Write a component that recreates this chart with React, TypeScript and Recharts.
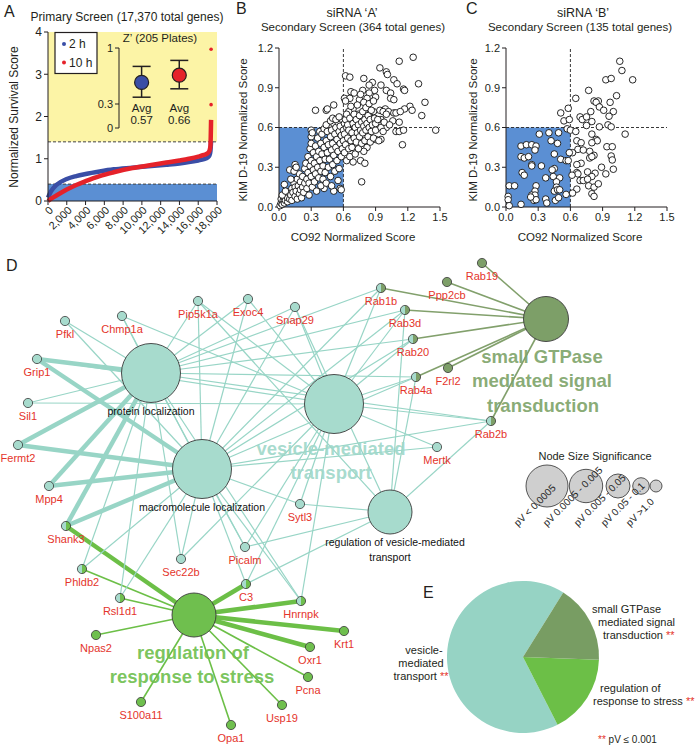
import React from 'react';
import {
  ComposedChart, Line, Scatter, ScatterChart, XAxis, YAxis, ReferenceArea, ReferenceLine,
  ErrorBar, PieChart, Pie, Cell,
} from 'recharts';

const FONT = '"Liberation Sans", Arial, Helvetica, sans-serif';
const INK = '#231f20';
const BLUE_FILL = '#5b8fd3';
const YELLOW_FILL = '#fcf4a6';
const RED_TXT = '#e4342b';

// ---------------- Panel A ----------------
const rankX = [0, 300, 900, 2000, 3000, 4000, 5500, 7000, 9000, 11000, 12600, 14000, 15000, 16000, 16600, 17000, 17200, 17300, 17370];
const score2h = [0.08, 0.22, 0.38, 0.52, 0.59, 0.64, 0.70, 0.75, 0.79, 0.83, 0.86, 0.89, 0.92, 0.96, 0.99, 1.03, 1.08, 1.18, 1.42];
const score10h = [0.0, 0.05, 0.13, 0.27, 0.38, 0.47, 0.59, 0.68, 0.78, 0.85, 0.91, 0.96, 1.0, 1.05, 1.09, 1.13, 1.19, 1.30, 1.92];
const outlierRank = [17370, 17370];
const outlier10h = [2.28, 3.59];
const xTicksA = [0, 2000, 4000, 6000, 8000, 10000, 12000, 14000, 16000, 18000];
const yTicksA = [0, 1, 2, 3, 4];
const seriesA = [
  { name: '2 h', color: '#3a4ea6', values: score2h },
  { name: '10 h', color: '#e5222a', values: score10h },
];

// Z' inset
const zGroups = ['2 h', '10 h'];
const zMean = [0.57, 0.66];
const zLow = [0.385, 0.49];
const zHigh = [0.77, 0.845];
const zTicks = [0, 0.3, 1];

// ---------------- Panels B & C ----------------
const xTicksBC = [0, 0.3, 0.6, 0.9, 1.2, 1.5];
const yTicksBC = [0, 0.3, 0.6, 0.9, 1.2];

const siA: number[][] = [
  [1.25, 1.13], [1.12, 1.10], [0.94, 1.05], [1.0, 1.02], [1.01, 1.0], [1.07, 0.96], [1.10, 0.93], [1.30, 0.93], [0.62, 0.99], [0.66, 0.98],
  [0.79, 0.97], [0.87, 0.94], [0.84, 0.92], [0.95, 0.92], [1.16, 0.89], [1.17, 0.88], [1.0, 0.88], [1.04, 0.86], [0.78, 0.88], [0.89, 0.88],
  [0.84, 0.86], [0.67, 0.87], [0.70, 0.86], [0.61, 0.82], [0.66, 0.82], [1.04, 0.82], [1.07, 0.81], [0.75, 0.81], [0.82, 0.82], [0.90, 0.83],
  [1.36, 0.79], [0.34, 0.73], [0.44, 0.73], [0.45, 0.74], [0.51, 0.77], [1.22, 0.76], [1.17, 0.74], [1.24, 0.73], [1.33, 0.69], [0.94, 0.73],
  [0.99, 0.74], [0.97, 0.72], [1.02, 0.72], [1.07, 0.71], [1.09, 0.71], [1.13, 0.72], [0.88, 0.72], [0.80, 0.73], [0.69, 0.74], [0.65, 0.72],
  [0.74, 0.70], [0.78, 0.68], [0.85, 0.67], [0.95, 0.66], [1.06, 0.65], [1.12, 0.64], [0.89, 0.64], [1.46, 0.58], [1.09, 0.57], [1.12, 0.57],
  [1.16, 0.58], [1.0, 0.60], [1.15, 0.47], [0.95, 0.51], [0.90, 0.51], [0.86, 0.51], [0.80, 0.54], [0.82, 0.45], [0.79, 0.42], [0.72, 0.43],
  [0.76, 0.35], [0.80, 0.33], [0.69, 0.34], [0.63, 0.38], [0.77, 0.19], [0.57, 0.14], [0.51, 0.12], [0.42, 0.14], [0.30, 0.58], [0.30, 0.53],
  [0.10, 0.28], [0.15, 0.32],
  [0.01, 0.01], [0.02, 0.03], [0.02, 0.06], [0.03, 0.02], [0.04, 0.05], [0.05, 0.03], [0.05, 0.07], [0.06, 0.05], [0.07, 0.09], [0.08, 0.04],
  [0.08, 0.07], [0.09, 0.11], [0.10, 0.06], [0.03, 0.09], [0.06, 0.12], [0.05, 0.17],
  [0.11, 0.09], [0.12, 0.14], [0.12, 0.05], [0.13, 0.11], [0.14, 0.18], [0.15, 0.08], [0.15, 0.15], [0.16, 0.12], [0.17, 0.21], [0.17, 0.06],
  [0.18, 0.16], [0.19, 0.10], [0.19, 0.25], [0.20, 0.13], [0.20, 0.19], [0.11, 0.21], [0.14, 0.27], [0.16, 0.30],
  [0.21, 0.07], [0.22, 0.15], [0.22, 0.23], [0.23, 0.11], [0.24, 0.18], [0.24, 0.29], [0.25, 0.33], [0.26, 0.14], [0.26, 0.21], [0.27, 0.26],
  [0.27, 0.38], [0.28, 0.09], [0.28, 0.18], [0.29, 0.31], [0.29, 0.44], [0.30, 0.23], [0.30, 0.35], [0.30, 0.48], [0.31, 0.56], [0.31, 0.15],
  [0.32, 0.28], [0.32, 0.41],
  [0.33, 0.19], [0.33, 0.33], [0.34, 0.25], [0.34, 0.46], [0.35, 0.12], [0.35, 0.38], [0.36, 0.30], [0.36, 0.52], [0.37, 0.22], [0.37, 0.42],
  [0.38, 0.35], [0.38, 0.57], [0.39, 0.16], [0.39, 0.27], [0.39, 0.48], [0.40, 0.40], [0.40, 0.55], [0.41, 0.31], [0.41, 0.21], [0.42, 0.45],
  [0.42, 0.59],
  [0.43, 0.36], [0.43, 0.26], [0.44, 0.50], [0.44, 0.18], [0.45, 0.41], [0.45, 0.57], [0.46, 0.30], [0.46, 0.47], [0.47, 0.36], [0.47, 0.62],
  [0.48, 0.23], [0.48, 0.53], [0.49, 0.43], [0.49, 0.58], [0.50, 0.32], [0.50, 0.48], [0.51, 0.39], [0.51, 0.63], [0.52, 0.55], [0.52, 0.27],
  [0.53, 0.45], [0.53, 0.60],
  [0.54, 0.35], [0.54, 0.51], [0.55, 0.64], [0.55, 0.42], [0.56, 0.57], [0.56, 0.29], [0.57, 0.48], [0.57, 0.61], [0.58, 0.38], [0.58, 0.54],
  [0.59, 0.44], [0.59, 0.66], [0.60, 0.50], [0.60, 0.58], [0.55, 0.20], [0.58, 0.13], [0.49, 0.16],
  [0.44, 0.62], [0.48, 0.65], [0.50, 0.67], [0.53, 0.66], [0.56, 0.68], [0.61, 0.63], [0.62, 0.66], [0.63, 0.60],
  [0.61, 0.41], [0.61, 0.55], [0.62, 0.47], [0.63, 0.70], [0.63, 0.35], [0.64, 0.52], [0.64, 0.62], [0.65, 0.44], [0.65, 0.58], [0.66, 0.67],
  [0.66, 0.38], [0.67, 0.50], [0.67, 0.76], [0.68, 0.56], [0.68, 0.45], [0.69, 0.63], [0.70, 0.52], [0.70, 0.70], [0.62, 0.80],
  [0.71, 0.40], [0.71, 0.60], [0.72, 0.66], [0.72, 0.49], [0.73, 0.56], [0.73, 0.77], [0.74, 0.62], [0.74, 0.44], [0.75, 0.69], [0.75, 0.53],
  [0.76, 0.58], [0.76, 0.85], [0.77, 0.64], [0.77, 0.48], [0.78, 0.72], [0.78, 0.56], [0.79, 0.61], [0.79, 0.79], [0.80, 0.66], [0.80, 0.50],
  [0.81, 0.58], [0.81, 0.75], [0.82, 0.63], [0.83, 0.69], [0.83, 0.53], [0.84, 0.78], [0.84, 0.60], [0.85, 0.66], [0.85, 0.49], [0.86, 0.73],
  [0.86, 0.57], [0.87, 0.62], [0.88, 0.80], [0.88, 0.52], [0.89, 0.67], [0.90, 0.58], [0.90, 0.63],
  [0.92, 0.66], [0.93, 0.50], [0.95, 0.60], [0.97, 0.57], [0.98, 0.64], [1.0, 0.70], [1.03, 0.62],
];

const siB: number[][] = [
  [1.06, 1.10], [1.08, 1.03], [1.18, 0.96], [0.93, 0.96], [0.98, 0.97], [0.77, 0.88], [1.03, 0.84], [0.65, 0.82], [0.82, 0.80], [0.86, 0.80],
  [0.84, 0.79], [0.97, 0.79], [0.87, 0.755], [0.91, 0.73], [1.0, 0.72], [0.79, 0.72], [0.51, 0.71], [0.58, 0.745], [0.69, 0.68], [0.71, 0.66],
  [0.75, 0.68], [0.96, 0.685], [0.54, 0.65], [0.59, 0.66], [0.80, 0.645], [0.75, 0.615], [0.87, 0.605], [0.95, 0.62], [0.98, 0.605], [0.57, 0.59],
  [0.60, 0.58], [0.65, 0.57], [1.11, 0.55], [0.80, 0.55], [0.66, 0.50], [0.70, 0.485], [0.84, 0.51], [0.85, 0.50], [0.80, 0.485], [0.94, 0.455],
  [0.99, 0.455], [0.67, 0.435], [0.72, 0.43], [0.78, 0.42], [0.62, 0.41], [0.82, 0.39], [0.78, 0.37], [0.80, 0.38], [0.98, 0.385], [0.99, 0.355],
  [0.70, 0.33], [0.66, 0.32], [0.89, 0.30], [1.0, 0.285], [0.93, 0.25], [0.66, 0.26], [0.67, 0.25], [0.76, 0.265], [0.83, 0.255], [0.80, 0.23],
  [0.69, 0.20], [0.72, 0.20], [0.76, 0.21], [0.615, 0.24], [0.77, 0.16], [0.82, 0.15], [0.86, 0.175], [0.80, 0.10], [0.82, 0.08], [0.66, 0.135],
  [0.62, 0.105],
  [0.31, 0.55], [0.40, 0.56], [0.49, 0.56], [0.42, 0.50], [0.48, 0.48], [0.14, 0.46], [0.19, 0.47], [0.24, 0.47], [0.28, 0.46], [0.27, 0.43],
  [0.45, 0.40], [0.14, 0.38], [0.17, 0.37], [0.21, 0.38], [0.24, 0.32], [0.24, 0.31], [0.33, 0.31], [0.51, 0.36], [0.56, 0.35], [0.58, 0.35],
  [0.59, 0.41], [0.45, 0.29], [0.43, 0.28], [0.15, 0.26], [0.17, 0.24], [0.37, 0.22], [0.44, 0.23], [0.50, 0.22], [0.47, 0.19], [0.47, 0.15],
  [0.03, 0.16], [0.08, 0.16], [0.28, 0.16], [0.27, 0.12], [0.45, 0.12], [0.48, 0.13], [0.50, 0.13], [0.56, 0.095], [0.02, 0.08], [0.02, 0.055],
  [0.03, 0.01], [0.14, 0.02], [0.24, 0.09], [0.27, 0.09], [0.26, 0.05], [0.28, 0.055], [0.37, 0.06], [0.38, 0.03], [0.46, 0.05], [0.49, 0.07],
  [0.23, 0.075],
];

// ---------------- Panel D (network layout) ----------------
const hubs = [
  { id: 'P', name: 'protein localization', x: 151, y: 373, r: 29.5, kind: 't' },
  { id: 'M', name: 'macromolecule localization', x: 202, y: 469, r: 29.5, kind: 't' },
  { id: 'V', name: 'vesicle-mediated transport', x: 334, y: 404, r: 29.5, kind: 't' },
  { id: 'R', name: 'regulation of vesicle-mediated transport', x: 390, y: 512, r: 22, kind: 't' },
  { id: 'G', name: 'small GTPase mediated signal transduction', x: 546, y: 319, r: 22.5, kind: 'g' },
  { id: 'S', name: 'regulation of response to stress', x: 194, y: 615, r: 22, kind: 's' },
];

const hubLabels = [
  { text: 'protein localization', x: 151, y: 411, big: '' },
  { text: 'macromolecule localization', x: 202, y: 507, big: '' },
  { text: 'regulation of vesicle-mediated', x: 395, y: 542, big: '' },
  { text: 'transport', x: 390, y: 557, big: '' },
  { text: 'vesicle-mediated', x: 331, y: 448, big: 't' },
  { text: 'transport', x: 331, y: 472, big: 't' },
  { text: 'small GTPase', x: 542, y: 356, big: 'g' },
  { text: 'mediated signal', x: 542, y: 380, big: 'g' },
  { text: 'transduction', x: 543, y: 405, big: 'g' },
  { text: 'regulation of', x: 193, y: 652, big: 's' },
  { text: 'response to stress', x: 192, y: 676, big: 's' },
];

const genes = [
  { id: 'Pfkl', x: 65, y: 321, kind: 't' },
  { id: 'Chmp1a', x: 122, y: 316, kind: 't' },
  { id: 'Pip5k1a', x: 198, y: 301, kind: 't' },
  { id: 'Exoc4', x: 248, y: 299, kind: 't' },
  { id: 'Snap29', x: 295, y: 307, kind: 't' },
  { id: 'Grip1', x: 37, y: 359, kind: 't' },
  { id: 'Sil1', x: 28, y: 403, kind: 't' },
  { id: 'Fermt2', x: 18, y: 445, kind: 't' },
  { id: 'Mpp4', x: 49, y: 486, kind: 't' },
  { id: 'Sytl3', x: 300, y: 504, kind: 't' },
  { id: 'Shank3', x: 66, y: 526, kind: 'ts' },
  { id: 'Phldb2', x: 82, y: 569, kind: 'ts' },
  { id: 'Sec22b', x: 181, y: 559, kind: 't' },
  { id: 'Picalm', x: 245, y: 547, kind: 't' },
  { id: 'C3', x: 246, y: 584, kind: 'ts' },
  { id: 'Rsl1d1', x: 120, y: 598, kind: 'ts' },
  { id: 'Hnrnpk', x: 301, y: 601, kind: 'ts' },
  { id: 'Npas2', x: 96, y: 635, kind: 's' },
  { id: 'Krt1', x: 344, y: 631, kind: 's' },
  { id: 'Oxr1', x: 310, y: 647, kind: 's' },
  { id: 'Pcna', x: 308, y: 677, kind: 's' },
  { id: 'S100a11', x: 141, y: 702, kind: 's' },
  { id: 'Usp19', x: 282, y: 705, kind: 's' },
  { id: 'Opa1', x: 231, y: 725, kind: 's' },
  { id: 'Rab19', x: 482, y: 263, kind: 'g' },
  { id: 'Ppp2cb', x: 447, y: 282, kind: 'g' },
  { id: 'Rab1b', x: 381, y: 288, kind: 'tg' },
  { id: 'Rab3d', x: 405, y: 310, kind: 'tg' },
  { id: 'Rab20', x: 413, y: 339, kind: 'tg' },
  { id: 'Rab4a', x: 416, y: 377, kind: 'tg' },
  { id: 'F2rl2', x: 448, y: 368, kind: 'g' },
  { id: 'Rab2b', x: 491, y: 421, kind: 'tg' },
  { id: 'Mertk', x: 437, y: 447, kind: 't' },
];

// gene -> hub, weight (1 = thin, 2 = thick)
const links: [string, string, number][] = [
  ['Pfkl', 'P', 1], ['Pfkl', 'M', 1],
  ['Chmp1a', 'P', 1], ['Chmp1a', 'M', 1], ['Chmp1a', 'V', 1],
  ['Pip5k1a', 'P', 1], ['Pip5k1a', 'M', 1], ['Pip5k1a', 'V', 1], ['Pip5k1a', 'R', 1],
  ['Exoc4', 'P', 1], ['Exoc4', 'M', 1], ['Exoc4', 'V', 1],
  ['Snap29', 'P', 1], ['Snap29', 'M', 1], ['Snap29', 'V', 1], ['Snap29', 'R', 1],
  ['Grip1', 'P', 2], ['Grip1', 'M', 2], ['Grip1', 'V', 1],
  ['Sil1', 'P', 1], ['Sil1', 'V', 1],
  ['Fermt2', 'P', 2], ['Fermt2', 'M', 2],
  ['Mpp4', 'P', 2], ['Mpp4', 'M', 2],
  ['Sytl3', 'M', 1], ['Sytl3', 'V', 1], ['Sytl3', 'R', 1],
  ['Sec22b', 'P', 1], ['Sec22b', 'M', 1], ['Sec22b', 'V', 1],
  ['Picalm', 'P', 1], ['Picalm', 'M', 1], ['Picalm', 'V', 1], ['Picalm', 'R', 1],
  ['Mertk', 'M', 1], ['Mertk', 'V', 1],
  ['Shank3', 'P', 2], ['Shank3', 'M', 2], ['Shank3', 'S', 2],
  ['Phldb2', 'P', 1], ['Phldb2', 'M', 1], ['Phldb2', 'S', 1],
  ['Rsl1d1', 'P', 1], ['Rsl1d1', 'M', 1], ['Rsl1d1', 'S', 1],
  ['C3', 'M', 1], ['C3', 'V', 1], ['C3', 'R', 1], ['C3', 'S', 2],
  ['Hnrnpk', 'P', 1], ['Hnrnpk', 'M', 1], ['Hnrnpk', 'V', 1], ['Hnrnpk', 'S', 2],
  ['Rab1b', 'P', 1], ['Rab1b', 'M', 1], ['Rab1b', 'V', 1], ['Rab1b', 'G', 1],
  ['Rab3d', 'P', 1], ['Rab3d', 'M', 1], ['Rab3d', 'V', 1], ['Rab3d', 'R', 1], ['Rab3d', 'G', 1],
  ['Rab20', 'P', 1], ['Rab20', 'M', 1], ['Rab20', 'V', 1], ['Rab20', 'G', 1],
  ['Rab4a', 'P', 1], ['Rab4a', 'M', 1], ['Rab4a', 'V', 1], ['Rab4a', 'R', 1], ['Rab4a', 'G', 1],
  ['Rab2b', 'P', 1], ['Rab2b', 'M', 1], ['Rab2b', 'V', 1], ['Rab2b', 'R', 1], ['Rab2b', 'G', 1],
  ['Rab19', 'G', 1], ['Ppp2cb', 'G', 1], ['F2rl2', 'G', 1],
  ['Npas2', 'S', 1], ['Krt1', 'S', 2], ['Oxr1', 'S', 2], ['Pcna', 'S', 1],
  ['S100a11', 'S', 1], ['Usp19', 'S', 1], ['Opa1', 'S', 1],
];

const sizeLegendLabels = ['pV < 0.0005', 'pV 0.0005 - 0.005', 'pV 0.005 - 0.05', 'pV 0.05 - 0.1', 'pV >1.0'];
const sizeLegend = [
  { x: 547, y: 486, r: 21, ldx: -29 },
  { x: 586, y: 486, r: 16.7, ldx: -39 },
  { x: 618, y: 486, r: 12, ldx: -40 },
  { x: 641, y: 486, r: 8.3, ldx: -36 },
  { x: 656, y: 486, r: 6, ldx: -26 },
];

// ---------------- Panel E ----------------
const pieCategories = ['vesicle-mediated transport', 'regulation of response to stress', 'small GTPase mediated signal transduction'];
const pieShares = [66.4, 16.9, 16.7];
const pieColors = ['#96d3c4', '#6cbf47', '#789d63'];

// colours for network
const NODE_FILL: Record<string, string> = { t: '#a7dbcd', g: '#7d9f68', s: '#6fbf4e' };
const EDGE_COL: Record<string, string> = { P: '#98d5c6', M: '#98d5c6', V: '#98d5c6', R: '#98d5c6', G: '#82a06c', S: '#6cbf47' };
const BIG_COL: Record<string, string> = { t: '#9fd8ca', g: '#7ea46a', s: '#6fc04f' };

// ---------------- helpers ----------------
const fmtThousands = (v: number) => v.toLocaleString('en-US');

const RotTick = (props: any) => {
  const { x, y, payload } = props;
  const tx = x + 3;
  const ty = y + 1;
  return (
    <text x={tx} y={ty} transform={`rotate(-45 ${tx} ${ty})`} textAnchor="end" dominantBaseline="central" fontSize={11} fill={INK}>
      {fmtThousands(payload.value)}
    </text>
  );
};

const OpenDot = (p: any) => <circle cx={p.cx} cy={p.cy} r={3.3} fill="#fff" stroke="#111" strokeWidth={0.9} />;
const Nothing = () => <g />;

const GeneShape = (p: any) => {
  const { cx, cy, payload } = p;
  const r = 4.6;
  const kind: string = payload.kind;
  let body;
  if (kind.length === 2) {
    const right = NODE_FILL[kind[1]];
    body = (
      <g>
        <path d={`M ${cx} ${cy - r} A ${r} ${r} 0 0 0 ${cx} ${cy + r} Z`} fill={NODE_FILL.t} />
        <path d={`M ${cx} ${cy - r} A ${r} ${r} 0 0 1 ${cx} ${cy + r} Z`} fill={right} />
        <circle cx={cx} cy={cy} r={r} fill="none" stroke="#3a3a3a" strokeWidth={0.8} />
      </g>
    );
  } else {
    body = <circle cx={cx} cy={cy} r={r} fill={NODE_FILL[kind]} stroke="#3a3a3a" strokeWidth={0.8} />;
  }
  return (
    <g>
      {body}
      <text x={cx} y={cy + 13} textAnchor="middle" dominantBaseline="central" fontSize={11} fill={RED_TXT}>{payload.id}</text>
    </g>
  );
};

const HubShape = (p: any) => {
  const { cx, cy, payload } = p;
  return <circle cx={cx} cy={cy} r={payload.r} fill={NODE_FILL[payload.kind]} stroke="#3a3a3a" strokeWidth={0.9} />;
};

const HubLabelShape = (p: any) => {
  const { cx, cy, payload } = p;
  if (payload.big) {
    return (
      <text x={cx} y={cy} textAnchor="middle" dominantBaseline="central" fontSize={18.5} fontWeight="bold" fill={BIG_COL[payload.big]} fillOpacity={0.92}>
        {payload.text}
      </text>
    );
  }
  return (
    <text x={cx} y={cy} textAnchor="middle" dominantBaseline="central" fontSize={10.5} fill="#111">{payload.text}</text>
  );
};

const SizeLegendShape = (p: any) => {
  const { cx, cy, payload } = p;
  const lx = cx + payload.ldx;
  const ly = cy + 41;
  return (
    <g>
      <circle cx={cx} cy={cy} r={payload.r} fill="#cfcfcf" stroke="#444" strokeWidth={0.9} />
      <text x={lx} y={ly} transform={`rotate(-45 ${lx} ${ly})`} fontSize={10} fill="#222">{payload.label}</text>
    </g>
  );
};

const ZDot = (color: string) => (p: any) => <circle cx={p.cx} cy={p.cy} r={7} fill={color} stroke={INK} strokeWidth={1.2} />;
const ZText = (p: any) => (
  <text x={p.cx} y={p.cy} textAnchor="middle" dominantBaseline="central" fontSize={11.5} fill={INK}>{p.payload.text}</text>
);
const SmallRedDot = (p: any) => <circle cx={p.cx} cy={p.cy} r={1.8} fill="#e5222a" />;

const axisTick = { fontSize: 11, fill: INK };

function ScatterPanel({ data, left, rightMargin }: { data: number[][]; left: number; rightMargin: number }) {
  const pts = data.map(([x, y]) => ({ x, y }));
  return (
    <div style={{ position: 'absolute', left, top: 0 }}>
      <ScatterChart width={236} height={250} margin={{ top: 48, right: rightMargin, bottom: 18, left: left === 230 ? 14 : 11 }}>
        <XAxis type="number" dataKey="x" domain={[0, 1.5]} ticks={xTicksBC} interval={0} tickFormatter={(v: number) => v.toFixed(1)}
          height={25} stroke={INK} tickSize={4} tick={axisTick} />
        <YAxis type="number" dataKey="y" domain={[0, 1.2]} ticks={yTicksBC} interval={0} tickFormatter={(v: number) => v.toFixed(1)}
          width={35} stroke={INK} tickSize={4} tick={axisTick} />
        <ReferenceArea x1={0} x2={0.6} y1={0} y2={0.6} fill={BLUE_FILL} fillOpacity={1} stroke="none" />
        <ReferenceLine x={0.6} stroke="#222" strokeDasharray="3 2" strokeWidth={0.9} />
        <ReferenceLine y={0.6} stroke="#222" strokeDasharray="3 2" strokeWidth={0.9} />
        <Scatter data={pts} shape={OpenDot} isAnimationActive={false} />
      </ScatterChart>
    </div>
  );
}

export default function App() {
  const lineData = seriesA.map((s) => rankX.map((x, i) => ({ x, y: s.values[i] })));
  const outliers = outlierRank.map((x, i) => ({ x, y: outlier10h[i] }));
  const zData = zGroups.map((g, i) => [{ x: i + 1, y: zMean[i], err: [zMean[i] - zLow[i], zHigh[i] - zMean[i]] }]);
  const zLabels = zGroups.flatMap((g, i) => [
    { x: i + 1, y: 0.25, text: 'Avg' },
    { x: i + 1, y: 0.1, text: zMean[i].toFixed(2) },
  ]);

  const nodeIndex: Record<string, { x: number; y: number }> = {};
  genes.forEach((g) => (nodeIndex[g.id] = g));
  hubs.forEach((h) => (nodeIndex[h.id] = h));

  const pieData = pieCategories.map((name, i) => ({ name, value: pieShares[i] }));
  const legendData = sizeLegend.map((s, i) => ({ ...s, label: sizeLegendLabels[i] }));

  return (
    <div style={{ position: 'absolute', left: 0, top: 0, width: 696, height: 746, background: '#fff', fontFamily: FONT, overflow: 'hidden' }}>
      {/* Panel D network */}
      <div style={{ position: 'absolute', left: 0, top: 0 }}>
        <ScatterChart width={696} height={746} margin={{ top: 0, right: 0, bottom: 0, left: 0 }}>
          <XAxis type="number" dataKey="x" domain={[0, 696]} hide />
          <YAxis type="number" dataKey="y" domain={[0, 746]} reversed hide />
          {links.map(([g, h, w], i) => (
            <Scatter key={`e${i}`} data={[nodeIndex[g], nodeIndex[h]]} shape={Nothing} isAnimationActive={false}
              line={{ stroke: EDGE_COL[h], strokeWidth: w === 2 ? 4.5 : (h === 'S' || h === 'G' ? 1.6 : 1.2) }} />
          ))}
          <Scatter data={hubs} shape={HubShape} isAnimationActive={false} />
          <Scatter data={genes} shape={GeneShape} isAnimationActive={false} />
          <Scatter data={hubLabels} shape={HubLabelShape} isAnimationActive={false} />
          <Scatter data={legendData} shape={SizeLegendShape} isAnimationActive={false} />
        </ScatterChart>
      </div>

      {/* Panel A */}
      <div style={{ position: 'absolute', left: 0, top: 0 }}>
        <ComposedChart width={230} height={250} margin={{ top: 32, right: 13, bottom: 9, left: 18 }}>
          <XAxis type="number" dataKey="x" domain={[0, 18000]} ticks={xTicksA} interval={0} tick={<RotTick />} height={40}
            stroke={INK} tickSize={4} />
          <YAxis type="number" dataKey="y" domain={[0, 4]} ticks={yTicksA} interval={0} width={30} stroke={INK} tickSize={4}
            tick={{ fontSize: 12, fill: INK }} />
          <ReferenceArea x1={0} x2={18000} y1={1.4} y2={4} fill={YELLOW_FILL} fillOpacity={1} stroke="none" />
          <ReferenceArea x1={0} x2={18000} y1={0} y2={0.4} fill={BLUE_FILL} fillOpacity={1} stroke="none" />
          <ReferenceLine y={1.4} stroke="#444" strokeDasharray="3 2" />
          <ReferenceLine y={0.4} stroke="#444" strokeDasharray="3 2" />
          {seriesA.map((s, i) => (
            <Line key={s.name} data={lineData[i]} dataKey="y" stroke={s.color} strokeWidth={4.5} dot={false} isAnimationActive={false} type="monotone" />
          ))}
          <Scatter data={outliers} shape={SmallRedDot} isAnimationActive={false} />
        </ComposedChart>
      </div>

      {/* Panel A inset Z' */}
      <div style={{ position: 'absolute', left: 0, top: 0 }}>
        <ScatterChart width={230} height={250} margin={{ top: 48, right: 30, bottom: 122, left: 99 }}>
          <XAxis type="number" dataKey="x" domain={[0.4, 2.55]} tick={false} tickLine={false} height={0} stroke={INK} />
          <YAxis type="number" dataKey="y" domain={[0, 1]} ticks={zTicks} interval={0} width={20} stroke={INK} tickSize={4}
            tick={{ fontSize: 11, fill: INK }} />
          {zData.map((d, i) => (
            <Scatter key={zGroups[i]} data={d} shape={ZDot(seriesA[i].color)} isAnimationActive={false}>
              <ErrorBar dataKey="err" direction="y" width={9} stroke={INK} strokeWidth={1.5} />
            </Scatter>
          ))}
          <Scatter data={zLabels} shape={ZText} isAnimationActive={false} />
        </ScatterChart>
      </div>

      {/* Panels B & C */}
      <ScatterPanel data={siA} left={230} rightMargin={26} />
      <ScatterPanel data={siB} left={460} rightMargin={29} />

      {/* Panel E pie */}
      <div style={{ position: 'absolute', left: 423, top: 557 }}>
        <PieChart width={200} height={200} margin={{ top: 0, right: 0, bottom: 0, left: 0 }}>
          <Pie data={pieData} dataKey="value" cx={100} cy={100} outerRadius={76} startAngle={58} endAngle={418}
            stroke="none" isAnimationActive={false}>
            {pieData.map((d, i) => <Cell key={d.name} fill={pieColors[i]} />)}
          </Pie>
        </PieChart>
      </div>

      {/* annotations */}
      <svg width={696} height={746} style={{ position: 'absolute', left: 0, top: 0, pointerEvents: 'none' }} fontFamily={FONT}>
        <g fill={INK}>
          <text x={4} y={17} fontSize={16}>A</text>
          <text x={236} y={14} fontSize={16}>B</text>
          <text x={466} y={14} fontSize={16}>C</text>
          <text x={6} y={271} fontSize={16}>D</text>
          <text x={423} y={598} fontSize={16}>E</text>

          <text x={127} y={21} fontSize={12} textAnchor="middle">Primary Screen (17,370 total genes)</text>
          <text x={14} y={117} fontSize={12} textAnchor="middle" dominantBaseline="central" transform="rotate(-90 14 117)">Normalized Survival Score</text>
          <text x={160} y={38} fontSize={11.5} textAnchor="middle" dominantBaseline="central">Z’ (205 Plates)</text>

          <text x={352} y={17} fontSize={12.5} textAnchor="middle">siRNA ‘A’</text>
          <text x={353} y={31} fontSize={11.5} textAnchor="middle">Secondary Screen (364 total genes)</text>
          <text x={243} y={130} fontSize={11.5} textAnchor="middle" dominantBaseline="central" transform="rotate(-90 243 130)">KIM D-19 Normalized Score</text>
          <text x={353} y={237} fontSize={11.5} textAnchor="middle" dominantBaseline="central">CO92 Normalized Score</text>

          <text x={583} y={17} fontSize={12.5} textAnchor="middle">siRNA ‘B’</text>
          <text x={580} y={31} fontSize={11.5} textAnchor="middle">Secondary Screen (135 total genes)</text>
          <text x={473} y={130} fontSize={11.5} textAnchor="middle" dominantBaseline="central" transform="rotate(-90 473 130)">KIM D-19 Normalized Score</text>
          <text x={580} y={237} fontSize={11.5} textAnchor="middle" dominantBaseline="central">CO92 Normalized Score</text>

          <text x={595} y={456} fontSize={11} textAnchor="middle" dominantBaseline="central">Node Size Significance</text>

          <text x={592} y={609} fontSize={11} dominantBaseline="central">small GTPase</text>
          <text x={598} y={622} fontSize={11} dominantBaseline="central">mediated signal</text>
          <text x={603} y={635} fontSize={11} dominantBaseline="central">transduction <tspan fill={RED_TXT}>**</tspan></text>
          <text x={600} y={688} fontSize={11} dominantBaseline="central">regulation of</text>
          <text x={593} y={701} fontSize={11} dominantBaseline="central">response to stress <tspan fill={RED_TXT}>**</tspan></text>
          <text x={424} y={650} fontSize={11} textAnchor="middle" dominantBaseline="central">vesicle-</text>
          <text x={421} y={663} fontSize={11} textAnchor="middle" dominantBaseline="central">mediated</text>
          <text x={421} y={676} fontSize={11} textAnchor="middle" dominantBaseline="central">transport <tspan fill={RED_TXT}>**</tspan></text>
          <text x={598} y={739} fontSize={10} dominantBaseline="central"><tspan fill={RED_TXT}>**</tspan> pV ≤ 0.001</text>
        </g>
        <g>
          <rect x={55} y={32.5} width={42} height={41} fill="#fff" stroke={INK} strokeWidth={1.2} />
          {seriesA.map((s, i) => (
            <g key={s.name}>
              <circle cx={64} cy={44 + i * 18.5} r={2} fill={s.color} />
              <text x={69} y={44 + i * 18.5} fontSize={12} dominantBaseline="central" fill={INK}>{s.name}</text>
            </g>
          ))}
        </g>
      </svg>
    </div>
  );
}
